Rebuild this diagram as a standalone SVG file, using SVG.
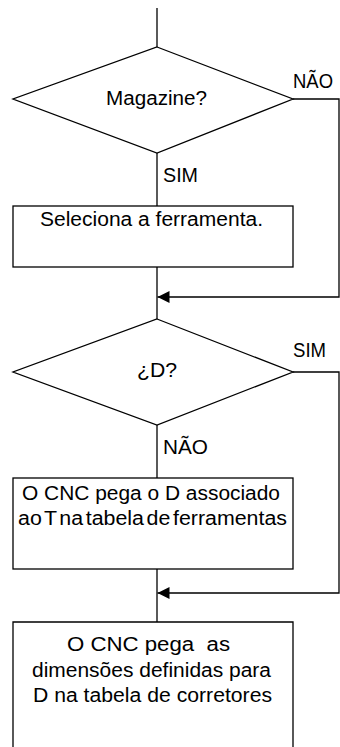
<svg xmlns="http://www.w3.org/2000/svg" width="340" height="747" viewBox="0 0 340 747">
<style>
.s{fill:none;stroke:#000;stroke-width:1.3}
.b{fill:#fff;stroke:#000;stroke-width:1.3}
text{font-family:"Liberation Sans",Arial,sans-serif;font-size:19.5px;fill:#000}
</style>
<defs>
<marker id="ah" markerWidth="12" markerHeight="12" refX="12" refY="6" orient="auto" markerUnits="userSpaceOnUse">
<path d="M0,0 L12,6 L0,12 Z" fill="#000" stroke="none"/>
</marker>
</defs>
<rect width="340" height="747" fill="#fff"/>
<g id="connectors">
<path class="s" d="M157,8 V47"/>
<path class="s" d="M157,153 V206"/>
<path class="s" d="M157,267 V319"/>
<path class="s" d="M293,99 H339 V297 H157.5" marker-end="url(#ah)"/>
<path class="s" d="M157,425 V478"/>
<path class="s" d="M157,569 V622"/>
<path class="s" d="M293,372 H339 V593 H157.5" marker-end="url(#ah)"/>
<text x="293" y="88" textLength="40" lengthAdjust="spacingAndGlyphs">NÃO</text>
<text x="163" y="182" textLength="35" lengthAdjust="spacingAndGlyphs">SIM</text>
<text x="293" y="357" textLength="33" lengthAdjust="spacingAndGlyphs">SIM</text>
<text x="163" y="454" textLength="45" lengthAdjust="spacingAndGlyphs">NÃO</text>
</g>
<g id="d1">
<path class="b" d="M157,47 L293,99 L157,153 L13,99 Z"/>
<text x="106" y="105" textLength="101" lengthAdjust="spacingAndGlyphs">Magazine?</text>
</g>
<g id="r1">
<rect class="b" x="13" y="206" width="280" height="61"/>
<text x="40" y="226" textLength="223" lengthAdjust="spacingAndGlyphs">Seleciona a ferramenta.</text>
</g>
<g id="d2">
<path class="b" d="M157,319 L293,372 L157,425 L13,372 Z"/>
<text x="137" y="377" textLength="40" lengthAdjust="spacingAndGlyphs">¿D?</text>
</g>
<g id="r2">
<rect class="b" x="13" y="478" width="280" height="91"/>
<text x="22" y="500" textLength="258" lengthAdjust="spacingAndGlyphs">O CNC pega o D associado</text>
<text x="18" y="525" textLength="269" lengthAdjust="spacingAndGlyphs" word-spacing="-3">ao T na tabela de ferramentas</text>
</g>
<g id="r3">
<path class="s" d="M13,748 V622 H293 V748"/>
<text x="67" y="651" textLength="163" lengthAdjust="spacingAndGlyphs" xml:space="preserve">O CNC pega  as</text>
<text x="32" y="677" textLength="239" lengthAdjust="spacingAndGlyphs">dimensões definidas para</text>
<text x="33" y="702" textLength="239" lengthAdjust="spacingAndGlyphs">D na tabela de corretores</text>
</g>
</svg>
